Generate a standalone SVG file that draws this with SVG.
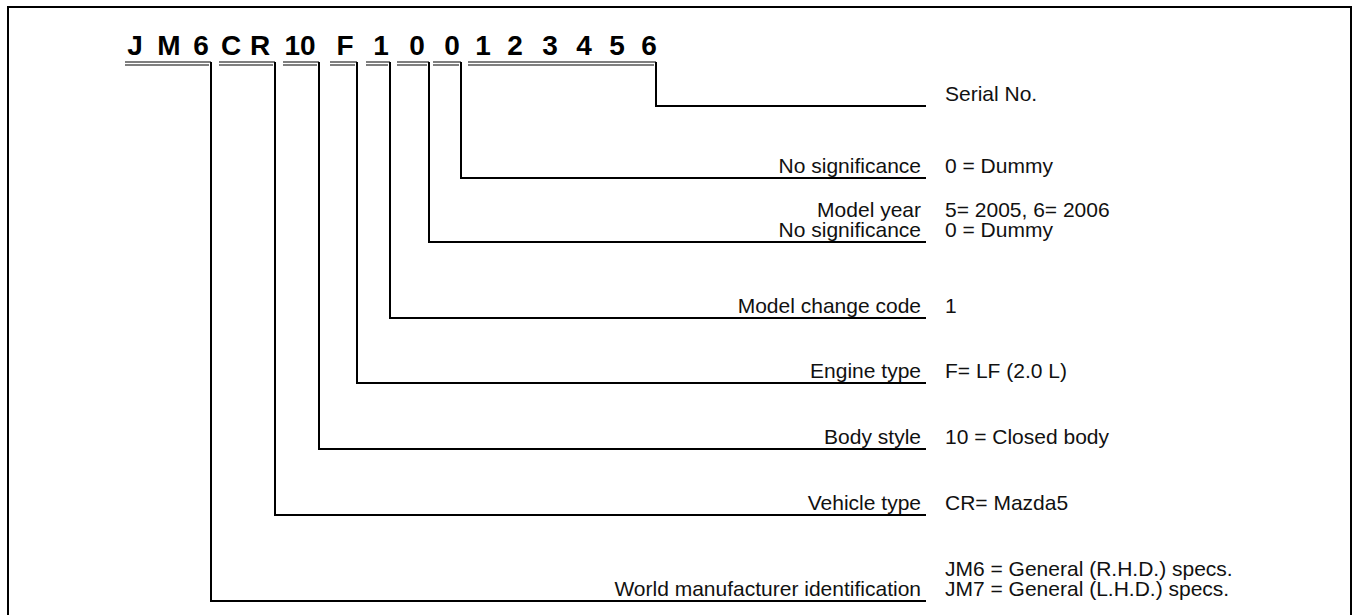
<svg xmlns="http://www.w3.org/2000/svg" width="1353" height="615" viewBox="0 0 1353 615">
  <style>
    .frame { fill: none; stroke: #000; stroke-width: 2; }
    .vin { font-family: "Liberation Sans", Arial, sans-serif; font-weight: bold; font-size: 28px; fill: #000; text-anchor: middle; }
    .ul { stroke: #000; stroke-width: 1.2; fill: none; }
    .lead { stroke: #000; stroke-width: 2; fill: none; }
    .lbl { font-family: "Liberation Sans", Arial, sans-serif; font-size: 21px; fill: #111; text-anchor: end; }
    .val { font-family: "Liberation Sans", Arial, sans-serif; font-size: 21px; fill: #111; }
  </style>
  <rect width="1353" height="615" fill="#fff"/>
  <rect class="frame" x="8" y="7" width="1343" height="620"/>

  <!-- VIN characters -->
  <g id="vin-code">
    <text class="vin" x="135" y="55">J</text>
    <text class="vin" x="169" y="55">M</text>
    <text class="vin" x="201" y="55">6</text>
    <text class="vin" x="231" y="55">C</text>
    <text class="vin" x="260" y="55">R</text>
    <text class="vin" x="300" y="55">10</text>
    <text class="vin" x="345" y="55">F</text>
    <text class="vin" x="381" y="55">1</text>
    <text class="vin" x="417" y="55">0</text>
    <text class="vin" x="452" y="55">0</text>
    <text class="vin" x="483" y="55">1</text>
    <text class="vin" x="515" y="55">2</text>
    <text class="vin" x="550" y="55">3</text>
    <text class="vin" x="584" y="55">4</text>
    <text class="vin" x="617" y="55">5</text>
    <text class="vin" x="649" y="55">6</text>
  </g>

  <!-- double underlines and leader lines -->
  <g id="connectors">
    <path class="ul" d="M125 62H211M125 65H209"/>
    <path class="ul" d="M219 62H275M219 65H273"/>
    <path class="ul" d="M283 62H319M283 65H317"/>
    <path class="ul" d="M330 62H357M330 65H355"/>
    <path class="ul" d="M366 62H390M366 65H388"/>
    <path class="ul" d="M397 62H429M397 65H427"/>
    <path class="ul" d="M433 62H461M433 65H459"/>
    <path class="ul" d="M468 62H656M468 65H654"/>

    <path class="lead" d="M656 62V106H926"/>
    <path class="lead" d="M461 62V178H926"/>
    <path class="lead" d="M429 62V242H926"/>
    <path class="lead" d="M390 62V318H926"/>
    <path class="lead" d="M357 62V383H926"/>
    <path class="lead" d="M319 62V449H926"/>
    <path class="lead" d="M275 62V515H926"/>
    <path class="lead" d="M211 62V601H926"/>
  </g>

  <g id="serial">
    <text class="val" x="945" y="101">Serial No.</text>
  </g>
  <g id="check-digit">
    <text class="lbl" x="921" y="173">No significance</text>
    <text class="val" x="945" y="173">0 = Dummy</text>
  </g>
  <g id="model-year">
    <text class="lbl" x="921" y="217">Model year</text>
    <text class="val" x="945" y="217">5= 2005, 6= 2006</text>
    <text class="lbl" x="921" y="237">No significance</text>
    <text class="val" x="945" y="237">0 = Dummy</text>
  </g>
  <g id="model-change">
    <text class="lbl" x="921" y="313">Model change code</text>
    <text class="val" x="945" y="313">1</text>
  </g>
  <g id="engine">
    <text class="lbl" x="921" y="378">Engine type</text>
    <text class="val" x="945" y="378">F= LF (2.0 L)</text>
  </g>
  <g id="body">
    <text class="lbl" x="921" y="444">Body style</text>
    <text class="val" x="945" y="444">10 = Closed body</text>
  </g>
  <g id="vehicle">
    <text class="lbl" x="921" y="510">Vehicle type</text>
    <text class="val" x="945" y="510">CR= Mazda5</text>
  </g>
  <g id="manufacturer">
    <text class="val" x="945" y="576">JM6 = General (R.H.D.) specs.</text>
    <text class="lbl" x="921" y="596">World manufacturer identification</text>
    <text class="val" x="945" y="596">JM7 = General (L.H.D.) specs.</text>
  </g>
</svg>
